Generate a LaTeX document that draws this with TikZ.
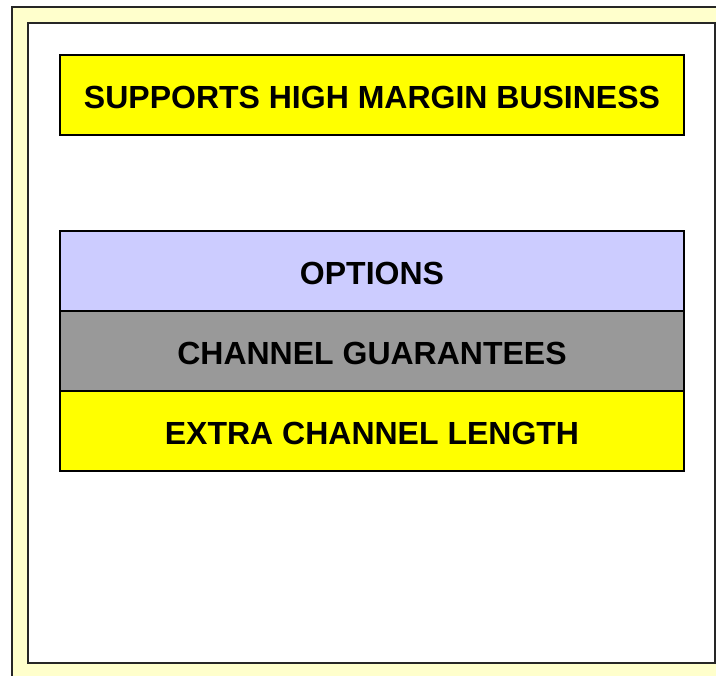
\documentclass[tikz,border=0pt]{standalone}
\usepackage{fontspec}
\setmainfont{Liberation Sans}
\usepackage{xcolor}
\usetikzlibrary{positioning}
\definecolor{paleyellow}{HTML}{FFFFCC}
\definecolor{boxyellow}{HTML}{FFFF00}
\definecolor{lavender}{HTML}{CCCCFF}
\definecolor{midgray}{HTML}{999999}

\begin{document}
\begin{tikzpicture}[x=0.75pt, y=-0.75pt,
            bar/.style={rectangle, draw=black, line width=1.1pt, minimum width=468pt, minimum height=60pt, inner sep=0pt, outer sep=0pt, text height=20.2pt, text depth=0pt, align=center, font=\fontsize{24}{28}\selectfont\bfseries},
            frame/.style={draw=black!85, line width=1.2pt}
        ]
            \useasboundingbox (0,0) rectangle (716,675);
            \clip (0,0) rectangle (716,675);

% Frames
            \draw[frame, fill=paleyellow] (12,7) rectangle (740,700);
            \draw[frame, fill=white] (28,23) rectangle (715,663);

% Top box
            \node[bar, fill=boxyellow] (margin) at (372,95) {SUPPORTS HIGH MARGIN BUSINESS};

% Stack
            \node[bar, fill=lavender] (options) at (372,271) {OPTIONS};
            \node[bar, fill=midgray, below=0pt of options] (guarantees) {CHANNEL GUARANTEES};
            \node[bar, fill=boxyellow, below=0pt of guarantees] (length) {EXTRA CHANNEL LENGTH};

        \end{tikzpicture}
\end{document}
